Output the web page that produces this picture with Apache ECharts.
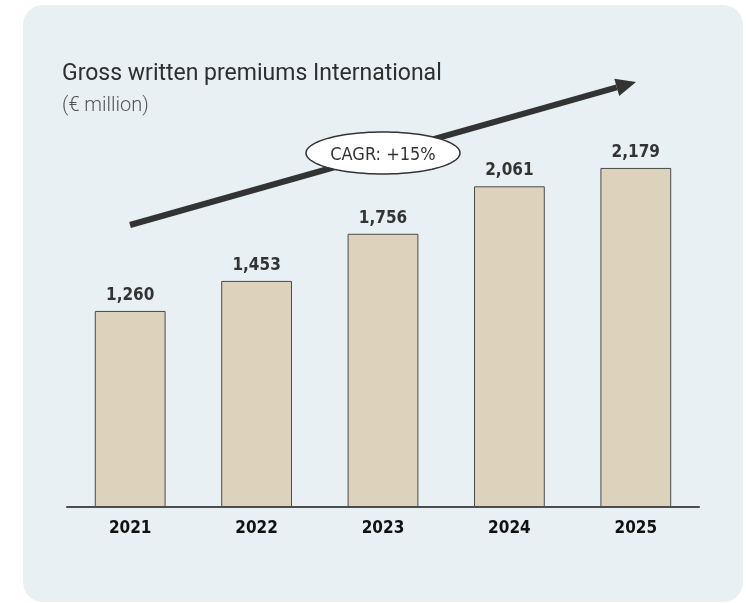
<!DOCTYPE html>
<html>
<head>
<meta charset="utf-8">
<style>
  html, body { margin: 0; padding: 0; background: #ffffff; }
  #chart { width: 746px; height: 603px; }
</style>
<script src="https://cdn.jsdelivr.net/npm/echarts@6/dist/echarts.min.js"></script>
</head>
<body>
<div id="chart"></div>
<script>
// Gross written premiums, International segment (€ million)
const years = ['2021', '2022', '2023', '2024', '2025'];
const premiums = [1260, 1453, 1756, 2061, 2179];
const cagrLabel = 'CAGR: +15%';

const chart = echarts.init(document.getElementById('chart'), null, { renderer: 'canvas' });

// Ellipse outline for the CAGR badge, built as a polygon
function ellipsePoints(cx, cy, rx, ry, n) {
  const pts = [];
  for (let i = 0; i < n; i++) {
    const a = (i / n) * Math.PI * 2;
    pts.push([cx + rx * Math.cos(a), cy + ry * Math.sin(a)]);
  }
  return pts;
}

// Trend arrow geometry
const arrowStart = [130, 225];
const arrowTip = [636, 82];
const ang = Math.atan2(arrowTip[1] - arrowStart[1], arrowTip[0] - arrowStart[0]);
const headLen = 20, headHalf = 9;
const base = [arrowTip[0] - headLen * Math.cos(ang), arrowTip[1] - headLen * Math.sin(ang)];
const head = [
  arrowTip,
  [base[0] + headHalf * Math.sin(ang), base[1] - headHalf * Math.cos(ang)],
  [base[0] - headHalf * Math.sin(ang), base[1] + headHalf * Math.cos(ang)]
];

const condensed = '"DejaVu Sans Condensed", "DejaVu Sans", sans-serif';

chart.setOption({
  animation: false,
  grid: { left: 67, right: 47, top: 118, bottom: 96 },
  xAxis: {
    type: 'category',
    data: years,
    axisLine: { lineStyle: { color: '#4d4d4d', width: 2 } },
    axisTick: { show: false },
    axisLabel: {
      margin: 13,
      color: '#111111',
      fontFamily: condensed,
      fontWeight: 'bold',
      fontSize: 17
    }
  },
  yAxis: {
    type: 'value',
    min: 0,
    max: 2500,
    show: false,
    splitLine: { show: false }
  },
  series: [{
    type: 'bar',
    data: premiums,
    barCategoryGap: '44%',
    itemStyle: { color: '#ddd3bc', borderColor: '#4a4a4a', borderWidth: 1 },
    label: {
      show: true,
      position: 'top',
      distance: 7,
      color: '#333333',
      fontFamily: condensed,
      fontWeight: 'bold',
      fontSize: 17,
      formatter: p => p.value.toLocaleString('en-US')
    },
    z: 3
  }],
  graphic: [
    {
      type: 'rect',
      z: -10,
      silent: true,
      shape: { x: 23, y: 5, width: 720, height: 597, r: 20 },
      style: { fill: '#e8f0f4' }
    },
    {
      type: 'text',
      left: 62, top: 63,
      style: {
        text: 'Gross written premiums International',
        font: '400 23px Roboto, sans-serif',
        fill: '#2e2e2e'
      }
    },
    {
      type: 'text',
      left: 62, top: 96,
      style: {
        text: '(€ million)',
        font: '300 20px Roboto, sans-serif',
        fill: '#555555'
      }
    },
    {
      type: 'line',
      z: 5,
      shape: { x1: arrowStart[0], y1: arrowStart[1], x2: base[0], y2: base[1] },
      style: { stroke: '#333333', lineWidth: 6, lineCap: 'butt' }
    },
    {
      type: 'polygon',
      z: 5,
      shape: { points: head },
      style: { fill: '#333333' }
    },
    {
      type: 'polygon',
      z: 6,
      shape: { points: ellipsePoints(383, 153, 77, 21, 100) },
      style: { fill: '#ffffff', stroke: '#333333', lineWidth: 1.5 }
    },
    {
      type: 'text',
      z: 7,
      x: 383, y: 155,
      style: {
        text: cagrLabel,
        font: '18px ' + condensed,
        fill: '#333333',
        align: 'center',
        verticalAlign: 'middle'
      }
    }
  ]
});
</script>
</body>
</html>
